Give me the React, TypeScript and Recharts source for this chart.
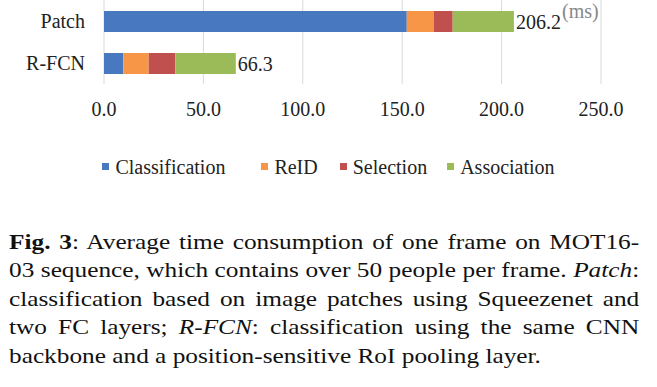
import React from "react";
import { BarChart, Bar, XAxis, YAxis, CartesianGrid, Legend, LabelList } from "recharts";

const categories = ["Patch", "R-FCN"];
const classification = [152.3, 9.7];
const reid = [13.7, 12.8];
const selection = [9.4, 13.4];
const association = [30.8, 30.4];
const totals = [206.2, 66.3];
const xTicks = [0, 50, 100, 150, 200, 250];

const data = categories.map((name, i) => ({
  name,
  Classification: classification[i],
  ReID: reid[i],
  Selection: selection[i],
  Association: association[i],
  total: totals[i],
}));

const serif = '"Liberation Serif", "Times New Roman", serif';

const series = [
  { key: "Classification", color: "#4878C0", gap: 36 },
  { key: "ReID", color: "#F79646", gap: 22 },
  { key: "Selection", color: "#C0504D", gap: 20 },
  { key: "Association", color: "#9BBB59", gap: 0 },
];

const tickStyle = { fill: "#222", fontSize: 20, fontFamily: serif };

const lineStyle: React.CSSProperties = {
  textAlign: "justify",
  textAlignLast: "justify",
  whiteSpace: "nowrap",
  height: 28.4,
  lineHeight: "28.4px",
};

// legend drawn in series order (recharts 3 sorts by name otherwise)
const renderLegend = () => (
  <div
    style={{
      display: "flex",
      justifyContent: "center",
      fontFamily: serif,
      fontSize: 20,
      color: "#222",
      lineHeight: "24px",
    }}
  >
    {series.map((s) => (
      <div key={s.key} style={{ display: "flex", alignItems: "center", marginRight: s.gap }}>
        <span
          style={{
            width: 7,
            height: 7,
            background: s.color,
            marginRight: 6,
            position: "relative",
            top: -1,
          }}
        />
        <span>{s.key}</span>
      </div>
    ))}
  </div>
);

export default function App() {
  return (
    <div
      style={{
        position: "absolute",
        top: 0,
        left: 0,
        width: 657,
        height: 387,
        background: "#fff",
        fontFamily: serif,
        overflow: "hidden",
      }}
    >
      <BarChart
        width={657}
        height={190}
        data={data}
        layout="vertical"
        margin={{ top: 0, right: 56, bottom: 0, left: 0 }}
        barSize={21}
      >
        <CartesianGrid horizontal={false} stroke="#d9d9d9" />
        <XAxis
          type="number"
          domain={[0, 250]}
          ticks={xTicks}
          tickFormatter={(v: number) => v.toFixed(1)}
          axisLine={false}
          tickLine={false}
          tickSize={0}
          tickMargin={18}
          height={82}
          tick={tickStyle}
          interval={0}
        />
        <YAxis
          type="category"
          dataKey="name"
          width={104}
          axisLine={false}
          tickLine={false}
          tickSize={0}
          tickMargin={19}
          tick={tickStyle}
        />
        <Legend
          content={renderLegend}
          wrapperStyle={{ top: 155, left: 0, width: 657 }}
        />
        {series.map((s, i) => (
          <Bar
            key={s.key}
            dataKey={s.key}
            stackId="a"
            fill={s.color}
            isAnimationActive={false}
          >
            {i === series.length - 1 && (
              <LabelList
                dataKey="total"
                position="right"
                offset={2}
                fill="#222"
                fontSize={20}
                fontFamily={serif}
              />
            )}
          </Bar>
        ))}
      </BarChart>
      <div
        style={{
          position: "absolute",
          left: 562,
          top: 0,
          fontSize: 20,
          color: "#888",
          lineHeight: "22px",
        }}
      >
        (ms)
      </div>
      <div
        style={{
          position: "absolute",
          left: 9,
          top: 228,
          width: 548,
          fontSize: 22,
          color: "#111",
          transform: "scaleX(1.15)",
          transformOrigin: "0 0",
        }}
      >
        <div style={lineStyle}>
          <b>Fig. 3</b>: Average time consumption of one frame on MOT16-
        </div>
        <div style={lineStyle}>
          03 sequence, which contains over 50 people per frame. <i>Patch</i>:
        </div>
        <div style={lineStyle}>
          classification based on image patches using Squeezenet and
        </div>
        <div style={lineStyle}>
          two FC layers; <i>R-FCN</i>: classification using the same CNN
        </div>
        <div style={{ ...lineStyle, textAlign: "left", textAlignLast: "left" }}>
          backbone and a position-sensitive RoI pooling layer.
        </div>
      </div>
    </div>
  );
}
